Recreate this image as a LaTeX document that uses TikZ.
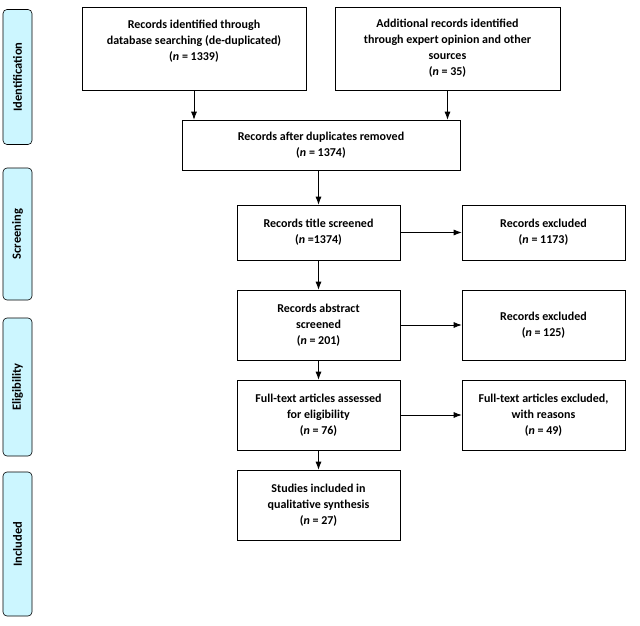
\documentclass[tikz,border=0pt]{standalone}
\usepackage{fontspec}
\setmainfont{Carlito}
\usetikzlibrary{positioning,arrows.meta}
\tikzset{>=latex}
\tikzset{
    box/.style={draw,semithick,align=center,font=\fontsize{12}{16}\selectfont\bfseries,inner sep=2pt},
    phase/.style={draw,semithick,rounded corners=4pt,fill=blue!18!cyan!20,minimum height=29pt,
        font=\fontsize{12.5}{15}\selectfont\bfseries,rotate=90},
    flow/.style={-{Latex[length=8pt,width=6pt]},thick}
}
\newcommand\nn{\textit{n}}

\begin{document}
\begin{tikzpicture}[x=1pt,y=-1pt]
    \useasboundingbox (0,0) rectangle (640,626);
    % phases
    \node[phase,minimum width=135pt] (ident) at (17.5,77)  {Identification};
    \node[phase,minimum width=132pt] (scr)   at (17.5,234) {Screening};
    \node[phase,minimum width=138pt] (elig)  at (17.5,387) {Eligibility};
    \node[phase,minimum width=144pt] (incl)  at (17.5,544) {Included};
    % boxes
    \node[box,minimum width=224pt,minimum height=83pt] (db)    at (194,48.5)  {Records identified through\\database searching (de-duplicated)\\(\nn{} = 1339)\\\mbox{}};
    \node[box,minimum width=225pt,minimum height=83pt] (other) at (447.5,48.5) {Additional records identified\\through expert opinion and other\\sources\\(\nn{} = 35)};
    \node[box,minimum width=278pt,minimum height=50pt] (dup)   at (321,145)   {Records after duplicates removed\\(\nn{} = 1374)};
    \node[box,minimum width=163pt,minimum height=55pt] (title) at (318.5,232.5) {Records title screened\\(\nn{} =1374)};
    \node[box,minimum width=163pt,minimum height=55pt] (ex1)   at (543.5,232.5) {Records excluded\\(\nn{} = 1173)};
    \node[box,minimum width=163pt,minimum height=70pt] (abst)  at (318.5,325) {Records abstract\\screened\\(\nn{} = 201)};
    \node[box,minimum width=163pt,minimum height=70pt] (ex2)   at (543.5,325) {Records excluded\\(\nn{} = 125)};
    \node[box,minimum width=163pt,minimum height=70pt] (full)  at (318.5,415) {Full-text articles assessed\\for eligibility\\(\nn{} = 76)};
    \node[box,minimum width=163pt,minimum height=70pt] (ex3)   at (543.5,415) {Full-text articles excluded,\\with reasons\\(\nn{} = 49)};
    \node[box,minimum width=163pt,minimum height=70pt] (study) at (318.5,505) {Studies included in\\qualitative synthesis\\(\nn{} = 27)};
    % arrows
    \draw[flow] (db.south)    -- (db.south |- dup.north);
    \draw[flow] (other.south) -- (other.south |- dup.north);
    \draw[flow] (dup.south -| title.north) -- (title.north);
    \draw[flow] (title) -- (ex1);
    \draw[flow] (title) -- (abst);
    \draw[flow] (abst) -- (ex2);
    \draw[flow] (abst) -- (full);
    \draw[flow] (full) -- (ex3);
    \draw[flow] (full) -- (study);
\end{tikzpicture}
\end{document}
